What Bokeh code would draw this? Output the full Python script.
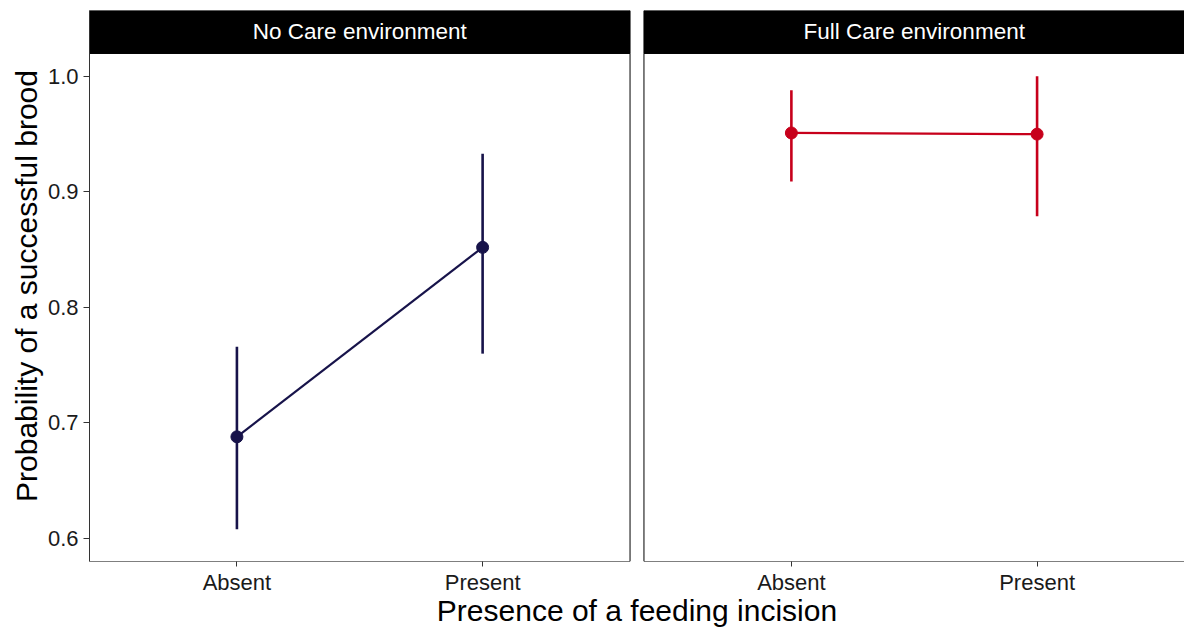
from bokeh.plotting import figure
from bokeh.models import FactorRange, FixedTicker, ColumnDataSource, Range1d, PrintfTickFormatter
from bokeh.core.properties import value
from bokeh.embed import file_html
from bokeh.resources import INLINE

# ---- data ----
environments = ["No Care environment", "Full Care environment"]
incision = ["Absent", "Present"]
prob_no_care = [0.688, 0.852]
lower_no_care = [0.608, 0.760]
upper_no_care = [0.766, 0.933]
prob_full_care = [0.951, 0.950]
lower_full_care = [0.909, 0.879]
upper_full_care = [0.988, 1.000]
y_ticks = [0.6, 0.7, 0.8, 0.9, 1.0]
colors = ["#17134A", "#C7001B"]

FONT = "Liberation Sans"

factors = [(e, i) for e in environments for i in incision]
x_range = FactorRange(factors=factors, factor_padding=0.0, group_padding=0.2567,
                      range_padding=0.1, range_padding_units="absolute")

y_lo, y_hi = 0.5801, 1.0199      # panel extent
strip_top = 1.0570               # top of facet strip

p = figure(width=1184, height=629, x_range=x_range, y_range=Range1d(y_lo, strip_top),
           output_backend="svg", toolbar_location=None,
           min_border_left=89, min_border_right=0, min_border_top=10, min_border_bottom=67)
p.xgrid.visible = False
p.ygrid.visible = False
p.outline_line_color = None
p.background_fill_color = "white"
p.border_fill_color = "white"

panel_w = 2.2
# facet strips
p.rect(x=environments, y=(y_hi + strip_top) / 2, width=panel_w, height=strip_top - y_hi,
       fill_color="black", line_color="black")
p.text(x=environments, y=[(y_hi + strip_top) / 2] * 2, text=environments,
       text_color="white", text_font=value(FONT), text_font_size="22.5px",
       text_align="center", text_baseline="middle")
# panel borders
p.rect(x=environments, y=(y_lo + y_hi) / 2, width=panel_w, height=y_hi - y_lo,
       fill_color=None, line_color="black", line_width=1)
# bottom axis lines per panel
p.rect(x=environments, y=y_lo, width=panel_w, height=0.0, fill_color=None,
       line_color="black", line_width=4)

series = [(prob_no_care, lower_no_care, upper_no_care),
          (prob_full_care, lower_full_care, upper_full_care)]
for env, (prob, lo, hi), col in zip(environments, series, colors):
    src = ColumnDataSource(dict(x=[(env, i) for i in incision], y=prob, lo=lo, hi=hi))
    p.segment(x0="x", y0="lo", x1="x", y1="hi", source=src, line_color=col, line_width=2.6)
    p.line(x="x", y="y", source=src, line_color=col, line_width=2.2)
    p.scatter(x="x", y="y", source=src, size=12, fill_color=col, line_color=col)

# y axis
ya = p.yaxis[0]
ya.ticker = FixedTicker(ticks=y_ticks)
ya.formatter = PrintfTickFormatter(format="%.1f")
ya.axis_label = "Probability of a successful brood"
ya.axis_label_text_font = FONT
ya.axis_label_text_font_size = "30px"
ya.axis_label_text_font_style = "normal"
ya.axis_label_text_color = "black"
ya.axis_label_standoff = 2
ya.major_label_text_font = FONT
ya.major_label_text_font_size = "22px"
ya.major_label_text_color = "#1a1a1a"
ya.major_label_standoff = 5
ya.major_tick_out = 6
ya.major_tick_in = 0
ya.major_tick_line_color = "#333333"
ya.minor_tick_line_color = None
ya.axis_line_color = "#333333"

# x axis
xa = p.xaxis[0]
xa.axis_label = "Presence of a feeding incision"
xa.axis_label_text_font = FONT
xa.axis_label_text_font_size = "30px"
xa.axis_label_text_font_style = "normal"
xa.axis_label_text_color = "black"
xa.axis_label_standoff = -4
xa.major_label_text_font = FONT
xa.major_label_text_font_size = "22px"
xa.major_label_text_color = "#1a1a1a"
xa.major_label_standoff = 3
xa.major_tick_out = 5
xa.major_tick_in = 0
xa.major_tick_line_color = "#333333"
xa.axis_line_color = None
xa.group_text_color = None
xa.group_text_font_size = "0px"
xa.separator_line_color = None

open("out.html", "w").write(file_html(p, INLINE))
